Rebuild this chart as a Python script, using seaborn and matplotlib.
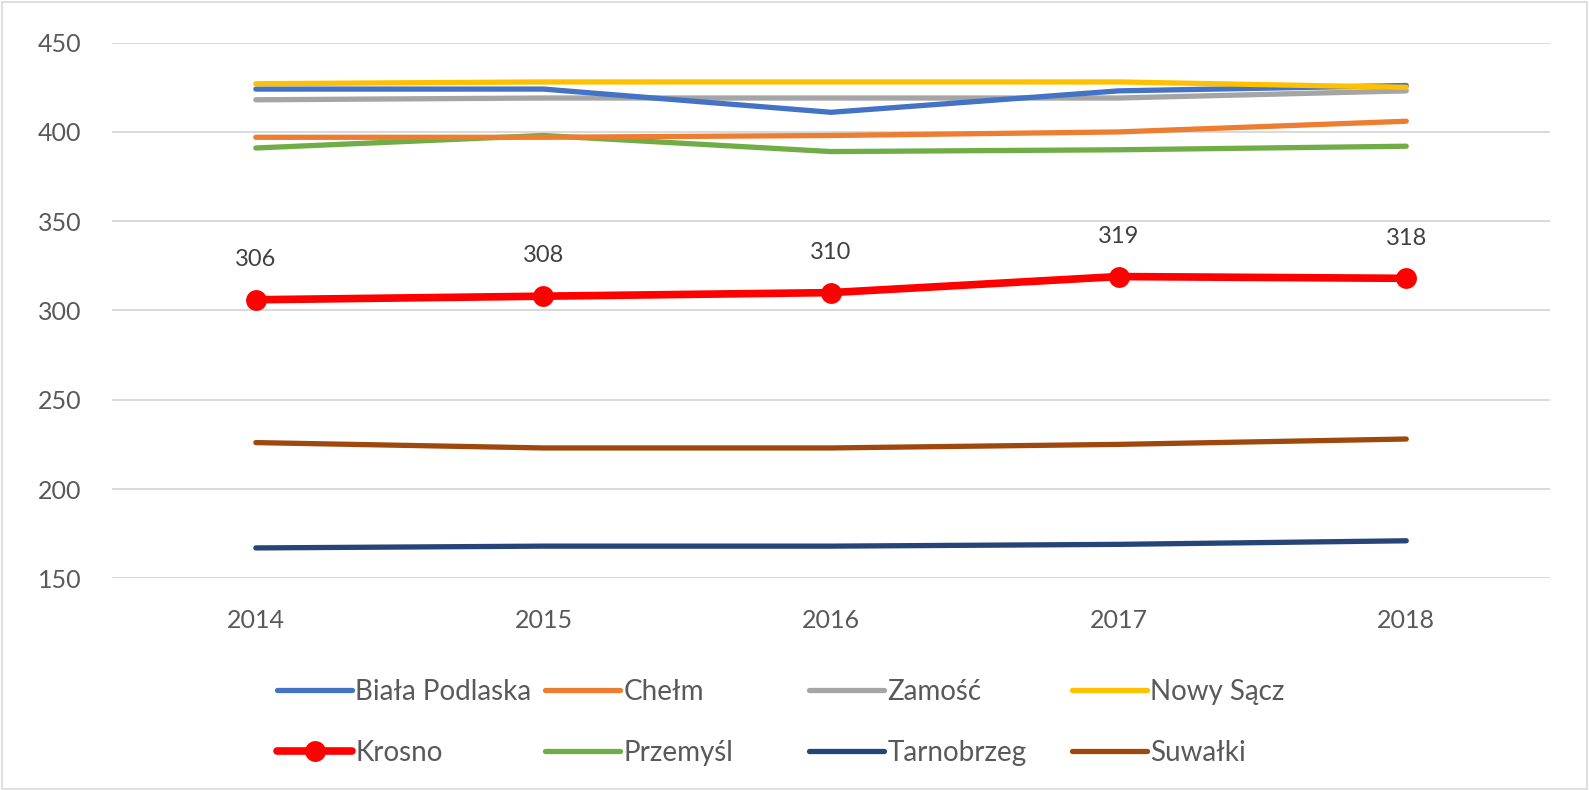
import matplotlib
matplotlib.use("Agg")
import matplotlib.pyplot as plt
import seaborn as sns
import pandas as pd
from matplotlib.lines import Line2D
from matplotlib.patches import Rectangle

years = [2014, 2015, 2016, 2017, 2018]
biala_podlaska = [424, 424, 411, 423, 426]
chelm = [397, 397, 398, 400, 406]
zamosc = [418, 419, 419, 419, 423]
nowy_sacz = [427, 428, 428, 428, 425]
krosno = [306, 308, 310, 319, 318]
przemysl = [391, 398, 389, 390, 392]
tarnobrzeg = [167, 168, 168, 169, 171]
suwalki = [226, 223, 223, 225, 228]

series = {
    "Biała Podlaska": biala_podlaska,
    "Chełm": chelm,
    "Zamość": zamosc,
    "Nowy Sącz": nowy_sacz,
    "Krosno": krosno,
    "Przemyśl": przemysl,
    "Tarnobrzeg": tarnobrzeg,
    "Suwałki": suwalki,
}
colors = {
    "Biała Podlaska": "#4472C4",
    "Chełm": "#ED7D31",
    "Zamość": "#A5A5A5",
    "Nowy Sącz": "#FFC000",
    "Krosno": "#FF0000",
    "Przemyśl": "#70AD47",
    "Tarnobrzeg": "#264478",
    "Suwałki": "#9E480E",
}

sns.set_theme(style="white")
plt.rcParams['font.family'] = ['Lato', 'DejaVu Sans']

fig = plt.figure(figsize=(15.89, 7.90), dpi=100)
ax = fig.add_axes([0.0705, 0.268, 0.905, 0.678])

# draw order: Krosno last so it sits on top
order = ["Suwałki", "Tarnobrzeg", "Przemyśl", "Chełm", "Zamość", "Biała Podlaska", "Nowy Sącz"]
for name in order:
    df = pd.DataFrame({"year": years, "value": series[name]})
    sns.lineplot(data=df, x="year", y="value", ax=ax, color=colors[name],
                 linewidth=3.8, solid_capstyle="round", zorder=3)

df_k = pd.DataFrame({"year": years, "value": krosno})
sns.lineplot(data=df_k, x="year", y="value", ax=ax, color=colors["Krosno"],
             linewidth=5.5, marker="o", markersize=15, markeredgewidth=0, zorder=5)
for x, v in zip(years, krosno):
    ax.annotate(str(v), (x, v), xytext=(0, 29), textcoords="offset points",
                ha="center", va="center", fontsize=17, color="#404040")

ax.set_xlim(2013.5, 2018.5)
ax.set_ylim(150, 450)
ax.set_yticks(range(150, 451, 50))
ax.set_xticks(years)
ax.set_xticklabels([str(y) for y in years])
ax.set_xlabel("")
ax.set_ylabel("")
ax.grid(axis="y", color="#D9D9D9", linewidth=1.4)
ax.set_axisbelow(True)
for s in ax.spines.values():
    s.set_visible(False)
ax.tick_params(axis="y", length=0, pad=22, labelsize=18, labelcolor="#595959")
ax.tick_params(axis="x", length=0, pad=22, labelsize=18, labelcolor="#595959")

# legend: four columns, each its own legend so widths match the reference
cols = [["Biała Podlaska", "Krosno"], ["Chełm", "Przemyśl"],
        ["Zamość", "Tarnobrzeg"], ["Nowy Sącz", "Suwałki"]]
col_x = [277, 545, 809, 1072]
for names, cx in zip(cols, col_x):
    handles = []
    for n in names:
        if n == "Krosno":
            handles.append(Line2D([], [], color=colors[n], linewidth=5.5, marker="o",
                                  markersize=15, markeredgewidth=0))
        else:
            handles.append(Line2D([], [], color=colors[n], linewidth=3.8,
                                  solid_capstyle="round"))
    leg = fig.legend(handles, names, loc="upper left",
                     bbox_to_anchor=(cx / 1589, 1 - 679 / 790),
                     frameon=False, fontsize=20, handlelength=2.7, handletextpad=0.12,
                     labelspacing=1.25, borderaxespad=0, borderpad=0)
    for t in leg.get_texts():
        t.set_color("#595959")

fig.patches.append(Rectangle((0.001, 0.001), 0.998, 0.997, transform=fig.transFigure,
                             fill=False, edgecolor="#D9D9D9", linewidth=1.2))

fig.savefig("out.png", dpi=100, facecolor="white")
